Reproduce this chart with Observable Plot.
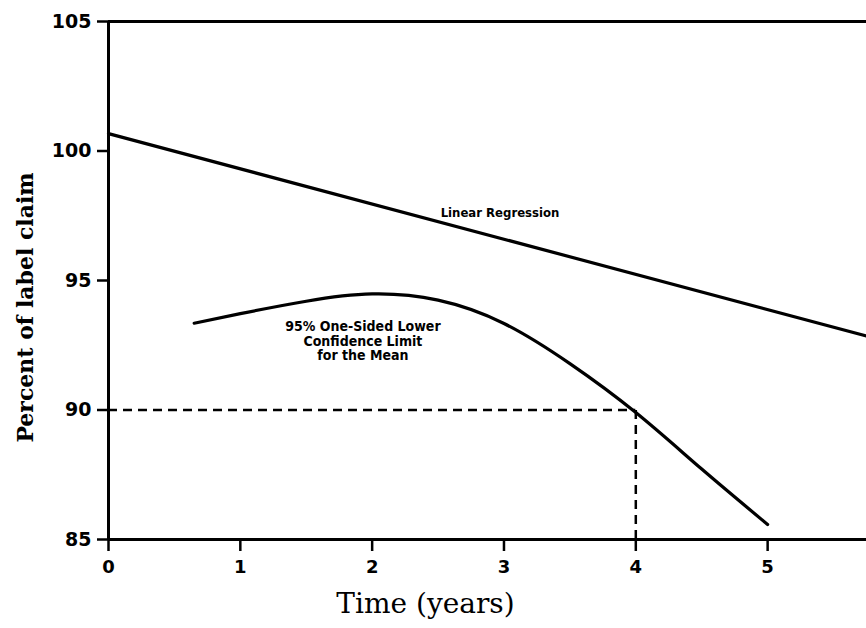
<!DOCTYPE html>
<html>
<head>
<meta charset="utf-8">
<script src="https://cdn.jsdelivr.net/npm/d3@7"></script>
<script src="https://cdn.jsdelivr.net/npm/@observablehq/plot@0.6"></script>
<style>
  html, body { margin: 0; padding: 0; background: #fff; }
</style>
</head>
<body>
<div id="chart"></div>
<script>
// Data
const regressionTime = [0, 5.75];
const regressionPct = [100.67, 92.86];

const limitTime = [0.65, 1.0, 1.5, 2.0, 2.5, 3.0, 3.5, 4.0, 4.5, 5.0];
const limitPct = [93.35, 93.72, 94.2, 94.48, 94.24, 93.34, 91.79, 89.9, 87.72, 85.58];

const specLimit = 90;
const shelfLife = 4;

const xTicks = [0, 1, 2, 3, 4, 5];
const yTicks = [85, 90, 95, 100, 105];

const labelRegression = "Linear Regression";
const labelLimit = "95% One-Sided Lower\nConfidence Limit\nfor the Mean";
const xTitle = "Time (years)";
const yTitle = "Percent of label claim";

const regression = regressionTime.map((t, i) => ({t, p: regressionPct[i]}));
const limit = limitTime.map((t, i) => ({t, p: limitPct[i]}));

const chart = Plot.plot({
  width: 866,
  height: 628,
  marginLeft: 108,
  marginRight: 0,
  marginTop: 21,
  marginBottom: 89,
  style: {background: "#fff", color: "#000"},
  x: {domain: [0, 5.75]},
  y: {domain: [85, 105]},
  marks: [
    Plot.axisY({ticks: yTicks, tickSize: 11, tickPadding: 6, strokeWidth: 2.5, tickFormat: "d",
      fontSize: 19, fontWeight: "bold", fontFamily: "DejaVu Sans", label: null}),
    Plot.axisX({ticks: xTicks, tickSize: 12, tickPadding: 9, strokeWidth: 2.5, tickFormat: "d",
      fontSize: 18, fontWeight: "bold", fontFamily: "DejaVu Sans", label: null}),
    Plot.ruleY([yTicks[yTicks.length - 1]], {strokeWidth: 3}),
    Plot.ruleY([yTicks[0]], {strokeWidth: 3}),
    Plot.ruleX([xTicks[0]], {strokeWidth: 3}),
    Plot.ruleY([specLimit], {x1: 0, x2: shelfLife, strokeWidth: 2.5, strokeDasharray: "9,6"}),
    Plot.ruleX([shelfLife], {y1: 85, y2: specLimit, strokeWidth: 2.5, strokeDasharray: "9,6"}),
    Plot.line(regression, {x: "t", y: "p", strokeWidth: 3.2}),
    Plot.line(limit, {x: "t", y: "p", strokeWidth: 3.2, curve: "natural"}),
    Plot.text([labelRegression], {x: 2.97, y: 97.6, fontSize: 13, fontWeight: "bold",
      fontFamily: "DejaVu Sans Condensed"}),
    Plot.text([labelLimit], {x: 1.93, y: 93.45, lineAnchor: "top", lineHeight: 1.05,
      fontSize: 14, fontWeight: "bold", fontFamily: "DejaVu Sans Condensed"}),
    Plot.text([xTitle], {frameAnchor: "bottom", dx: -62, dy: 65, lineAnchor: "middle",
      fontSize: 28, fontFamily: "DejaVu Serif"}),
    Plot.text([yTitle], {frameAnchor: "left", textAnchor: "middle", dx: -83, dy: 27, rotate: -90,
      fontSize: 22, fontWeight: "bold", fontFamily: "DejaVu Serif"})
  ]
});
document.getElementById("chart").appendChild(chart);
</script>
</body>
</html>
